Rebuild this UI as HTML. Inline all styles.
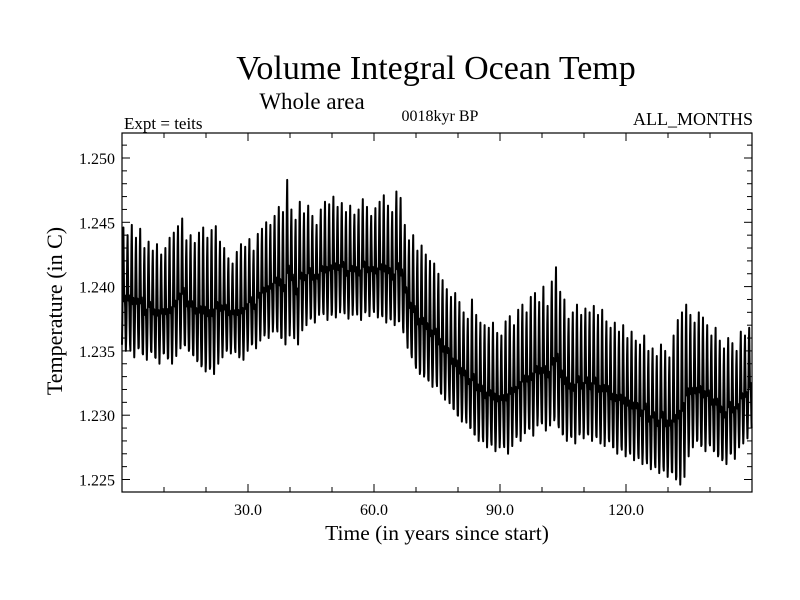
<!DOCTYPE html>
<html><head><meta charset="utf-8"><style>
html,body{margin:0;padding:0;background:#fff;}
svg{display:block;font-family:"Liberation Serif",serif;}
</style></head><body>
<svg id="chart" width="800" height="600">
<text x="436" y="79" font-size="34" text-anchor="middle">Volume Integral Ocean Temp</text>
<text x="312" y="109" font-size="23" text-anchor="middle">Whole area</text>
<text x="124" y="129" font-size="17">Expt = teits</text>
<text x="440" y="121" font-size="16" text-anchor="middle">0018kyr BP</text>
<text x="753" y="125" font-size="18" text-anchor="end">ALL_MONTHS</text>
<text x="437" y="540" font-size="21.5" text-anchor="middle">Time (in years since start)</text>
<text transform="translate(62,311) rotate(-90)" font-size="22" text-anchor="middle">Temperature (in C)</text>
<g id="axes"></g>
<g id="series"></g>
<rect x="122" y="133" width="630" height="359" fill="none" stroke="#000" stroke-width="1.2"/>
</svg>
<script>
const hiVals=[1.2446,1.2440,1.2448,1.2438,1.2445,1.2430,1.2435,1.2428,1.2433,1.2425,
1.2430,1.2438,1.2442,1.2447,1.2453,1.2436,1.2440,1.2434,1.2442,1.2446,
1.2438,1.2444,1.2447,1.2435,1.2430,1.2422,1.2418,1.2427,1.2433,1.2431,
1.2437,1.2428,1.2441,1.2445,1.2450,1.2448,1.2455,1.2462,1.2458,1.2483,
1.2460,1.2452,1.2466,1.2457,1.2463,1.2455,1.2448,1.2460,1.2466,1.2464,
1.2470,1.2462,1.2465,1.2458,1.2463,1.2456,1.2460,1.2468,1.2462,1.2455,
1.2461,1.2466,1.2471,1.2463,1.2458,1.2474,1.2469,1.2448,1.2436,1.2440,
1.2428,1.2432,1.2425,1.2420,1.2418,1.2410,1.2405,1.2398,1.2392,1.2395,
1.2388,1.2380,1.2375,1.2390,1.2378,1.2372,1.2370,1.2368,1.2372,1.2364,
1.2362,1.2373,1.2377,1.2370,1.2382,1.2386,1.2380,1.2392,1.2395,1.2388,
1.2400,1.2385,1.2404,1.2415,1.2396,1.2390,1.2375,1.2380,1.2386,1.2378,
1.2383,1.2380,1.2385,1.2378,1.2382,1.2373,1.2368,1.2372,1.2365,1.2370,
1.2360,1.2365,1.2358,1.2355,1.2362,1.2350,1.2352,1.2346,1.2355,1.2350,
1.2345,1.2362,1.2374,1.2380,1.2386,1.2378,1.2372,1.2380,1.2376,1.2370,
1.2362,1.2368,1.2358,1.2352,1.2360,1.2356,1.2350,1.2365,1.2362,1.2368];
const loVals=[1.2350,1.2355,1.2345,1.2352,1.2348,1.2343,1.2350,1.2345,1.2340,1.2348,
1.2344,1.2340,1.2346,1.2352,1.2355,1.2350,1.2347,1.2342,1.2338,1.2334,
1.2336,1.2332,1.2340,1.2345,1.2350,1.2348,1.2352,1.2345,1.2343,1.2350,
1.2355,1.2352,1.2358,1.2362,1.2360,1.2365,1.2368,1.2360,1.2355,1.2362,
1.2368,1.2355,1.2366,1.2370,1.2375,1.2372,1.2378,1.2380,1.2374,1.2378,
1.2376,1.2380,1.2382,1.2375,1.2378,1.2382,1.2374,1.2380,1.2377,1.2383,
1.2376,1.2378,1.2372,1.2375,1.2370,1.2373,1.2368,1.2360,1.2348,1.2340,
1.2332,1.2330,1.2328,1.2322,1.2326,1.2318,1.2312,1.2315,1.2305,1.2300,
1.2295,1.2298,1.2290,1.2285,1.2280,1.2283,1.2275,1.2280,1.2272,1.2275,
1.2278,1.2270,1.2276,1.2283,1.2280,1.2286,1.2290,1.2284,1.2292,1.2295,
1.2288,1.2292,1.2296,1.2293,1.2285,1.2280,1.2284,1.2278,1.2285,1.2282,
1.2286,1.2280,1.2284,1.2278,1.2276,1.2282,1.2275,1.2270,1.2276,1.2268,
1.2272,1.2265,1.2270,1.2262,1.2266,1.2258,1.2262,1.2255,1.2260,1.2252,
1.2256,1.2250,1.2246,1.2252,1.2268,1.2275,1.2280,1.2276,1.2272,1.2278,
1.2272,1.2268,1.2265,1.2262,1.2270,1.2266,1.2275,1.2278,1.2282,1.2290];
const seasonShape=[0.05,0.25,0.55,0.85,1.0,0.7,0.45,0.4,0.45,0.35,0.15,0.0];
const yTickLabels=["1.225","1.230","1.235","1.240","1.245","1.250"];
const xTickLabels=["30.0","60.0","90.0","120.0"];

const L=122,R=752,T=133,B=492;
const xScale=v=>L+(v-0)/(150-0)*(R-L);
const yScale=v=>158+(1.250-v)/0.005*64.3;
const NS="http://www.w3.org/2000/svg";
const axes=document.getElementById('axes');
function line(x1,y1,x2,y2,name){
  const l=document.createElementNS(NS,'line');
  l.setAttribute('x1',x1);l.setAttribute('y1',y1);l.setAttribute('x2',x2);l.setAttribute('y2',y2);
  l.setAttribute('stroke','#000');l.setAttribute('stroke-width','1');
  
  
  axes.appendChild(l);
}
function text(x,y,s,anchor,name){
  const t=document.createElementNS(NS,'text');
  t.setAttribute('x',x);t.setAttribute('y',y);t.setAttribute('font-size','16');
  t.setAttribute('text-anchor',anchor);t.textContent=s;
  
  
  axes.appendChild(t);
}
for(let i=0;i<=27;i++){
  const v=1.224+i*0.001; const y=yScale(v);
  if(y<T||y>B) continue;
  const major=Math.round(v*1000)%5===0;
  const len=major?8:5;
  line(L,y,L+len,y,'y-tick');
  line(R,y,R-len,y,'y-tick-right');
}
yTickLabels.forEach(s=>{const y=yScale(parseFloat(s));text(L-7,y+6,s,'end','y-tick-label');});
for(let v=10;v<150;v+=10){
  const x=xScale(v);const len=v%30===0?8:5;
  line(x,B,x,B-len,'x-tick');
  line(x,T,x,T+len,'x-tick-top');
}
xTickLabels.forEach(s=>{const x=xScale(parseFloat(s));text(x,B+23,s,'middle','x-tick-label');});
let d='';
for(let yr=0;yr<hiVals.length;yr++){
  for(let m=0;m<12;m++){
    const v=loVals[yr]+(hiVals[yr]-loVals[yr])*seasonShape[m];
    const x=xScale(yr+m/12), y=yScale(v);
    d+=(d?'L':'M')+x.toFixed(2)+','+y.toFixed(2);
  }
}
const p=document.createElementNS(NS,'path');
p.setAttribute('d',d);p.setAttribute('fill','none');p.setAttribute('stroke','#000');
p.setAttribute('stroke-width','2');p.setAttribute('stroke-linejoin','round');


document.getElementById('series').appendChild(p);
</script>
</body></html>
